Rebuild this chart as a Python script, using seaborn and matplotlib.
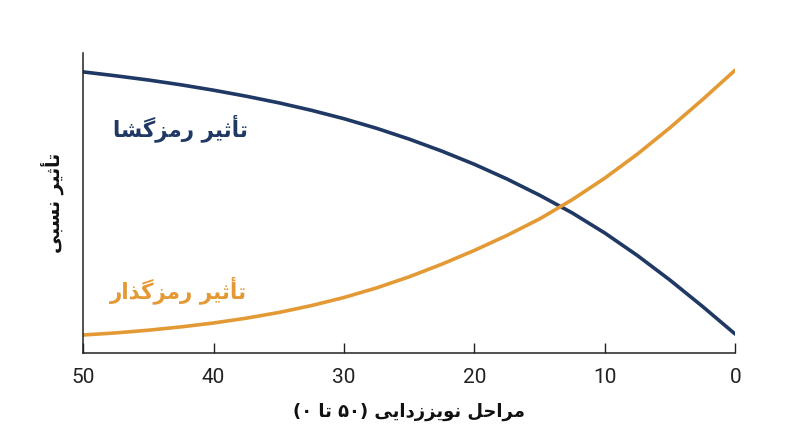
import re
import numpy as np
import pandas as pd
import matplotlib
matplotlib.use("Agg")
import matplotlib.pyplot as plt
import seaborn as sns

# ---- data ----
steps = [50, 47.5, 45, 42.5, 40, 37.5, 35, 32.5, 30, 27.5, 25,
         22.5, 20, 17.5, 15, 12.5, 10, 7.5, 5, 2.5, 0]
decoder_influence = [0.937, 0.924, 0.910, 0.894, 0.876, 0.856, 0.834, 0.809, 0.781, 0.749, 0.713,
                     0.673, 0.629, 0.580, 0.526, 0.467, 0.400, 0.325, 0.243, 0.155, 0.063]
encoder_influence = [0.060, 0.067, 0.076, 0.087, 0.100, 0.116, 0.135, 0.158, 0.185, 0.217, 0.254,
                     0.296, 0.342, 0.392, 0.447, 0.511, 0.583, 0.663, 0.751, 0.845, 0.943]
x_ticks = [50, 40, 30, 20, 10, 0]

decoder_label = "تأثیر رمزگشا"
encoder_label = "تأثیر رمزگذار"
y_label = "تأثیر نسبی"
x_label = "مراحل نویززدایی (۵۰ تا ۰)"

NAVY = "#1f3864"
ORANGE = "#e39a35"

# ---- minimal Persian shaping (presentation forms) + visual reordering ----
FORMS = {
    "ا": (0xFE8D, 0xFE8E), "أ": (0xFE83, 0xFE84),
    "ب": (0xFE8F, 0xFE90, 0xFE91, 0xFE92), "ت": (0xFE95, 0xFE96, 0xFE97, 0xFE98),
    "ث": (0xFE99, 0xFE9A, 0xFE9B, 0xFE9C), "ح": (0xFEA1, 0xFEA2, 0xFEA3, 0xFEA4),
    "د": (0xFEA9, 0xFEAA), "ذ": (0xFEAB, 0xFEAC), "ر": (0xFEAD, 0xFEAE),
    "ز": (0xFEAF, 0xFEB0), "س": (0xFEB1, 0xFEB2, 0xFEB3, 0xFEB4),
    "ش": (0xFEB5, 0xFEB6, 0xFEB7, 0xFEB8), "ل": (0xFEDD, 0xFEDE, 0xFEDF, 0xFEE0),
    "م": (0xFEE1, 0xFEE2, 0xFEE3, 0xFEE4), "ن": (0xFEE5, 0xFEE6, 0xFEE7, 0xFEE8),
    "و": (0xFEED, 0xFEEE), "ی": (0xFBFC, 0xFBFD, 0xFBFE, 0xFBFF),
    "گ": (0xFB92, 0xFB93, 0xFB94, 0xFB95),
}


def shape(s):
    out = []
    for i, c in enumerate(s):
        if c not in FORMS:
            out.append(c)
            continue
        f = FORMS[c]
        prev = s[i - 1] if i > 0 else ""
        nxt = s[i + 1] if i + 1 < len(s) else ""
        jp = prev in FORMS and len(FORMS[prev]) == 4
        jn = len(f) == 4 and nxt in FORMS
        if jp and jn:
            out.append(chr(f[3]))
        elif jp:
            out.append(chr(f[1]))
        elif jn:
            out.append(chr(f[2]))
        else:
            out.append(chr(f[0]))
    return "".join(out)


def rtl(s):
    runs = re.findall(r"[0-9\u06F0-\u06F9]+|.", shape(s))
    mirror = {"(": ")", ")": "("}
    return "".join(mirror.get(r, r) for r in runs[::-1])


# ---- figure ----
sns.set_theme(style="ticks")
plt.rcParams["font.family"] = ["Roboto", "DejaVu Sans"]

fig = plt.figure(figsize=(8.0, 4.47), dpi=100)
ax = fig.add_axes([0.104, 0.2103, 0.815, 0.6711])

df = pd.DataFrame({
    "step": steps * 2,
    "value": decoder_influence + encoder_influence,
    "series": ["decoder"] * len(steps) + ["encoder"] * len(steps),
})
sns.lineplot(data=df, x="step", y="value", hue="series",
             palette={"decoder": NAVY, "encoder": ORANGE},
             linewidth=2.6, legend=False, ax=ax,
             solid_joinstyle="round", solid_capstyle="round")

ax.set_xlim(50, 0)
ax.set_ylim(0, 1)
ax.set_xticks(x_ticks)
ax.set_xticklabels([str(t) for t in x_ticks])
ax.set_yticks([])
ax.tick_params(axis="x", direction="in", length=7, width=1, colors="#222222",
               labelsize=15, pad=11, labelcolor="#222222")
for side in ("top", "right"):
    ax.spines[side].set_visible(False)
for side in ("left", "bottom"):
    ax.spines[side].set_color("#222222")
    ax.spines[side].set_linewidth(1.1)

arabic = dict(family="DejaVu Sans", weight="bold")
ax.text(37.4, 0.75, rtl(decoder_label), color=NAVY, fontsize=15.5,
        ha="right", va="center", **arabic)
ax.text(37.4, 0.21, rtl(encoder_label), color=ORANGE, fontsize=15.5,
        ha="right", va="center", **arabic)

ax.set_xlabel(rtl(x_label), fontsize=13, color="#111111", labelpad=11, **arabic)
ax.set_ylabel(rtl(y_label), fontsize=13.5, color="#111111", labelpad=14, **arabic)

fig.savefig("out.png", dpi=100, facecolor="white")
